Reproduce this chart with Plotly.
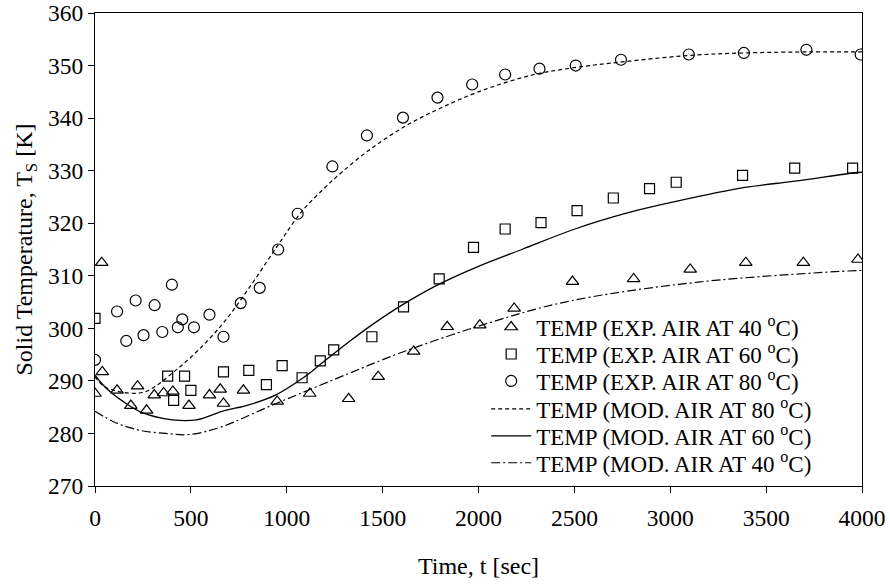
import plotly.graph_objects as go

# ---- Experimental data ----
t_exp80 = [0, 115, 163, 212, 253, 311, 351, 401, 432, 455, 516, 597, 670, 760, 859, 955,
           1057, 1238, 1418, 1606, 1786, 1967, 2139, 2318, 2507, 2743, 3097, 3384, 3710, 3993]
T_exp80 = [294.0, 303.2, 297.6, 305.3, 298.7, 304.4, 299.3, 308.3, 300.2, 301.7, 300.2, 302.6,
           298.4, 304.8, 307.7, 315.0, 321.8, 330.8, 336.7, 340.1, 343.9, 346.4, 348.3, 349.4,
           350.0, 351.1, 352.1, 352.4, 353.0, 352.1]

t_exp60 = [0, 379, 410, 467, 500, 670, 802, 894, 976, 1080, 1175, 1245, 1444, 1609, 1795,
           1974, 2139, 2326, 2514, 2703, 2892, 3031, 3377, 3649, 3951]
T_exp60 = [301.9, 290.9, 286.3, 290.9, 288.2, 291.7, 292.0, 289.3, 292.9, 290.6, 293.8, 295.9,
           298.4, 304.1, 309.4, 315.4, 318.9, 320.1, 322.4, 324.8, 326.6, 327.8, 329.1, 330.5, 330.5]

t_exp40 = [0, 35, 38, 115, 187, 222, 269, 309, 358, 406, 490, 597, 653, 670, 774, 950, 1120,
           1323, 1477, 1662, 1837, 2007, 2186, 2490, 2809, 3104, 3394, 3694, 3979]
T_exp40 = [287.6, 312.5, 291.7, 288.2, 285.3, 289.0, 284.4, 287.3, 287.7, 288.0, 285.3, 287.3,
           288.4, 285.7, 288.2, 286.1, 287.6, 286.6, 290.8, 295.6, 300.3, 300.6, 303.8, 308.9,
           309.4, 311.2, 312.5, 312.5, 313.1]

# ---- Model curves ----
t_mod80 = [0, 50, 150, 250, 320, 400, 500, 660, 800, 950, 1080, 1200, 1290, 1440, 1620, 1790,
           2000, 2280, 2520, 2750, 3090, 3390, 3740, 4000]
T_mod80 = [290.8, 288.9, 287.8, 287.8, 289.1, 291.4, 294.5, 300.6, 307.5, 315.6, 322.3, 326.8,
           329.8, 334.2, 338.5, 341.7, 345.0, 348.2, 349.7, 350.7, 351.9, 352.4, 352.6, 352.6]

t_mod60 = [0, 59, 146, 250, 403, 529, 663, 807, 941, 1086, 1184, 1323, 1450, 1609, 1800, 2000,
           2226, 2503, 2781, 3024, 3389, 3649, 3962, 4000]
T_mod60 = [291.1, 288.6, 286.1, 283.9, 282.6, 282.6, 284.2, 285.5, 287.3, 290.6, 293.4, 297.4,
           300.8, 304.6, 308.5, 311.8, 315.0, 318.9, 322.0, 324.1, 326.8, 328.0, 329.6, 329.7]

t_mod40 = [0, 111, 233, 368, 493, 663, 906, 1323, 1583, 2017, 2451, 3146, 3979, 4000]
T_mod40 = [284.2, 282.0, 280.6, 280.0, 279.8, 281.3, 285.1, 291.4, 295.2, 300.6, 305.0, 308.8,
           311.0, 311.0]

x_ticks = [0, 500, 1000, 1500, 2000, 2500, 3000, 3500, 4000]
y_ticks = [270, 280, 290, 300, 310, 320, 330, 340, 350, 360]

legend_names = [
    "TEMP (EXP. AIR AT 40 <sup>o</sup>C)",
    "TEMP (EXP. AIR AT 60 <sup>o</sup>C)",
    "TEMP (EXP. AIR AT 80 <sup>o</sup>C)",
    "TEMP (MOD. AIR AT 80 <sup>o</sup>C)",
    "TEMP (MOD. AIR AT 60 <sup>o</sup>C)",
    "TEMP (MOD. AIR AT 40 <sup>o</sup>C)",
]

FONT = "Liberation Serif"
BLACK = "#000000"
FS_LEG = 23
FS_TICK = 23.5
FS_TITLE = 24

fig = go.Figure()

def marker_trace(x, y, sym, size, name, leg):
    return go.Scatter(x=x, y=y, mode="markers", name=name, legend=leg,
                      marker=dict(symbol=sym, size=size, color=BLACK,
                                  line=dict(color=BLACK, width=1.2)))

fig.add_trace(marker_trace(t_exp40, T_exp40, "triangle-up-open", 11, legend_names[0], "legend"))
fig.add_trace(marker_trace(t_exp60, T_exp60, "square-open", 10, legend_names[1], "legend2"))
fig.add_trace(marker_trace(t_exp80, T_exp80, "circle-open", 11, legend_names[2], "legend3"))

fig.add_trace(go.Scatter(x=t_mod80, y=T_mod80, mode="lines", line_shape="spline",
                         name=legend_names[3], legend="legend4",
                         line=dict(color=BLACK, width=1.2, dash="4px,3px")))
fig.add_trace(go.Scatter(x=t_mod60, y=T_mod60, mode="lines", line_shape="spline",
                         name=legend_names[4], legend="legend5",
                         line=dict(color=BLACK, width=1.3)))
fig.add_trace(go.Scatter(x=t_mod40, y=T_mod40, mode="lines", line_shape="spline",
                         name=legend_names[5], legend="legend6",
                         line=dict(color=BLACK, width=1.2, dash="9px,3px,2px,3px")))

W, H = 890, 588
ML, MT, MR, MB = 95, 13, 28, 102
row_y = [0.336, 0.279, 0.222, 0.163, 0.106, 0.049]
leg_x = 0.51

def leg(y):
    return dict(x=leg_x, y=y, xanchor="left", yanchor="middle",
                bgcolor="rgba(0,0,0,0)", borderwidth=0,
                font=dict(family=FONT, size=FS_LEG, color=BLACK), itemwidth=40)

fig.update_layout(
    width=W, height=H,
    margin=dict(l=ML, r=MR, t=MT, b=MB),
    paper_bgcolor="white", plot_bgcolor="white",
    font=dict(family=FONT, size=FS_LEG, color=BLACK),
    showlegend=True,
    legend=leg(row_y[0]), legend2=leg(row_y[1]), legend3=leg(row_y[2]),
    legend4=leg(row_y[3]), legend5=leg(row_y[4]), legend6=leg(row_y[5]),
    xaxis=dict(range=[0, 4000], tickvals=x_ticks, ticktext=[str(v) for v in x_ticks],
               showgrid=False, zeroline=False, showline=True, linecolor=BLACK,
               linewidth=1, mirror=True, ticks="outside", ticklen=6, tickcolor=BLACK,
               tickfont=dict(family=FONT, size=FS_TICK), ticklabelstandoff=5,
               title=dict(text="Time, t [sec]", font=dict(family=FONT, size=FS_TITLE), standoff=26),
               automargin=False),
    yaxis=dict(range=[270, 360], tickvals=y_ticks, ticktext=[str(v) for v in y_ticks],
               showgrid=False, zeroline=False, showline=True, linecolor=BLACK,
               linewidth=1, mirror=True, ticks="outside", ticklen=6, tickcolor=BLACK,
               tickfont=dict(family=FONT, size=FS_TICK),
               title=dict(text="Solid Temperature, T<sub>S</sub> [K]",
                          font=dict(family=FONT, size=FS_TITLE), standoff=8),
               automargin=False),
)

fig.write_html("out.html", config={"displayModeBar": False},
               post_script="document.body.style.margin='0px';")
